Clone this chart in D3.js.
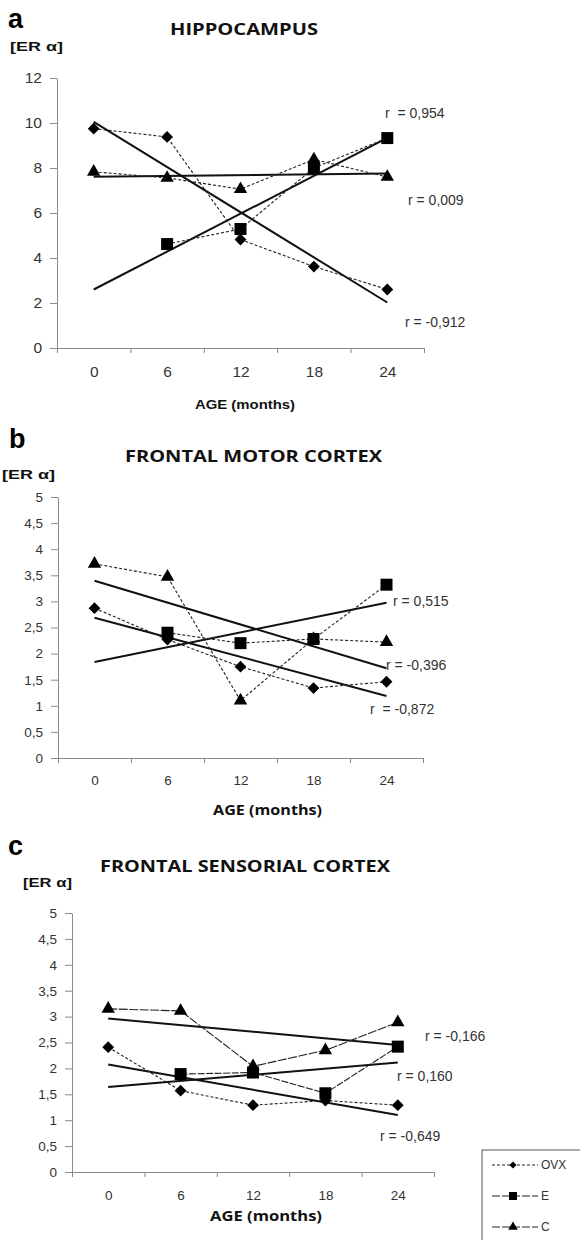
<!DOCTYPE html>
<html>
<head>
<meta charset="utf-8">
<script src="https://cdn.jsdelivr.net/npm/d3@7"></script>
<style>
  body { margin: 0; background: #fff; }
  svg { display: block; }
</style>
</head>
<body>
<script>
// ages on the x axis (months)
const ages = [0, 6, 12, 18, 24];
const ageBounds = [-3, 3, 9, 15, 21, 27];

const ticksHip = [0, 2, 4, 6, 8, 10, 12];
const ticksCortex = [0, 0.5, 1, 1.5, 2, 2.5, 3, 3.5, 4, 4.5, 5];

// HIPPOCAMPUS
const hipOVX = [9.75, 9.38, 4.82, 3.62, 2.6];
const hipE   = [null, 4.62, 5.29, 8.0, 9.33];
const hipC   = [7.83, 7.56, 7.06, 8.38, 7.6];
const hipR   = ["r  = 0,954", "r = 0,009", "r = -0,912"];

// FRONTAL MOTOR CORTEX
const motOVX = [2.87, 2.27, 1.75, 1.34, 1.46];
const motE   = [null, 2.4, 2.2, 2.28, 3.32];
const motC   = [3.72, 3.47, 1.1, 2.28, 2.22];
const motR   = ["r = 0,515", "r = -0,396", "r  = -0,872"];

// FRONTAL SENSORIAL CORTEX
const senOVX = [2.41, 1.57, 1.29, 1.38, 1.29];
const senE   = [null, 1.89, 1.92, 1.52, 2.42];
const senC   = [3.15, 3.11, 2.04, 2.35, 2.89];
const senR   = ["r = -0,166", "r = 0,160", "r = -0,649"];

const legendNames = ["OVX", "E", "C"];

const svg = d3.select("body").append("svg")
    .attr("width", 580)
    .attr("height", 1240);

const ARIAL = "'Liberation Sans', Arial, sans-serif";
const CALIBRI = "'Open Sans', sans-serif";

const panels = [
    {
        letter: "a", title: "HIPPOCAMPUS", ovx: hipOVX, e: hipE, c: hipC, r: hipR,
        ticks: ticksHip, yMax: 12,
        left: 57, right: 424, top: 78, bottom: 348,
        letterPos: [8, 28], titlePos: [170, 35, 148], erPos: [10, 51, 53],
        ageText: { x: 195, y: 409, len: 100, font: ARIAL, size: 13 },
        tickSize: 15.5, xPad: 18,
        rPos: [[385, 118], [408, 205], [405, 327]],
        dashE: "3,2", dashC: "3,2"
    },
    {
        letter: "b", title: "FRONTAL MOTOR CORTEX", ovx: motOVX, e: motE, c: motC, r: motR,
        ticks: ticksCortex, yMax: 5,
        left: 58, right: 423, top: 497, bottom: 758,
        letterPos: [9, 448], titlePos: [125, 462, 257], erPos: [2, 479, 53],
        ageText: { x: 213, y: 815, len: 109, font: CALIBRI, size: 14 },
        tickSize: 13.5, xPad: 17,
        rPos: [[393, 606], [386, 670], [370, 714]],
        dashE: "3,2", dashC: "3,2"
    },
    {
        letter: "c", title: "FRONTAL SENSORIAL CORTEX", ovx: senOVX, e: senE, c: senC, r: senR,
        ticks: ticksCortex, yMax: 5,
        left: 72, right: 434, top: 913, bottom: 1172,
        letterPos: [8, 855], titlePos: [100, 872, 290], erPos: [23, 887, 49],
        ageText: { x: 210, y: 1221, len: 112, font: CALIBRI, size: 14 },
        tickSize: 13.5, xPad: 18,
        rPos: [[425, 1041], [397, 1081], [380, 1141]],
        dashE: "7,1.5", dashC: "9,1.5"
    }
];

function regression(vals) {
    const pts = vals.map((v, i) => [ages[i], v]).filter(p => p[1] !== null);
    const mx = d3.mean(pts, p => p[0]);
    const my = d3.mean(pts, p => p[1]);
    const slope = d3.sum(pts, p => (p[0] - mx) * (p[1] - my)) / d3.sum(pts, p => (p[0] - mx) ** 2);
    return a => my + slope * (a - mx);
}

const markerPath = {
    ovx: d3.symbol(d3.symbolSquare, 70)(),
    e: d3.symbol(d3.symbolSquare, 144)(),
    c: d3.symbol(d3.symbolTriangle, 78)()
};
const markerRot = { ovx: 45, e: 0, c: 0 };

function drawPanel(p) {
    const x = d3.scaleLinear().domain([-3, 27]).range([p.left, p.right]);
    const y = d3.scaleLinear().domain([0, p.yMax]).range([p.bottom, p.top]);
    const g = svg.append("g");

    // y axis
    const yAxis = g.append("g")
        .attr("transform", `translate(${p.left},0)`)
        .call(d3.axisLeft(y).tickValues(p.ticks).tickSize(7).tickSizeOuter(0).tickPadding(8)
            .tickFormat(d => String(d).replace(".", ",")));
    // x axis: boundary ticks, then centred labels
    const xAxis = g.append("g")
        .attr("transform", `translate(0,${p.bottom})`)
        .call(d3.axisBottom(x).tickValues(ageBounds).tickSize(5).tickSizeOuter(0).tickFormat(""));
    const xLab = g.append("g")
        .attr("transform", `translate(0,${p.bottom})`)
        .call(d3.axisBottom(x).tickValues(ages).tickSize(0).tickPadding(p.xPad));
    xLab.select(".domain").remove();

    [yAxis, xAxis, xLab].forEach(a => {
        a.attr("font-size", null).attr("font-family", null);
        a.selectAll(".domain, line").attr("stroke", "#8a8a8a");
        a.selectAll("text")
            .style("fill", "#333")
            .style("font-family", ARIAL)
            .style("font-size", p.tickSize + "px");
    });

    // trend lines
    [p.ovx, p.e, p.c].forEach(vals => {
        const f = regression(vals);
        g.append("line")
            .attr("x1", x(0)).attr("y1", y(f(0)))
            .attr("x2", x(24)).attr("y2", y(f(24)))
            .attr("stroke", "#111").attr("stroke-width", 2);
    });

    // data lines + markers
    const series = [
        { key: "ovx", vals: p.ovx, dash: "3,2" },
        { key: "e", vals: p.e, dash: p.dashE },
        { key: "c", vals: p.c, dash: p.dashC }
    ];
    const line = d3.line()
        .defined(d => d[1] !== null)
        .x(d => x(d[0])).y(d => y(d[1]));
    series.forEach(s => {
        const pts = s.vals.map((v, i) => [ages[i], v]);
        g.append("path")
            .attr("d", line(pts))
            .attr("fill", "none")
            .attr("stroke", "#222")
            .attr("stroke-width", 1.1)
            .attr("stroke-dasharray", s.dash);
    });
    series.forEach(s => {
        g.selectAll(null)
            .data(s.vals.map((v, i) => [ages[i], v]).filter(d => d[1] !== null))
            .enter().append("path")
            .attr("d", markerPath[s.key])
            .attr("transform", d => `translate(${x(d[0])},${y(d[1])}) rotate(${markerRot[s.key]})`)
            .attr("fill", "#000");
    });

    // texts
    g.append("text").text(p.letter)
        .attr("x", p.letterPos[0]).attr("y", p.letterPos[1])
        .attr("font-family", ARIAL).attr("font-weight", "bold").attr("font-size", 27);
    g.append("text").text(p.title)
        .attr("x", p.titlePos[0]).attr("y", p.titlePos[1])
        .attr("textLength", p.titlePos[2]).attr("lengthAdjust", "spacingAndGlyphs")
        .attr("font-family", CALIBRI).attr("font-weight", "bold").attr("font-size", 16)
        .attr("fill", "#111");
    g.append("text").text("[ER α]")
        .attr("x", p.erPos[0]).attr("y", p.erPos[1])
        .attr("textLength", p.erPos[2]).attr("lengthAdjust", "spacingAndGlyphs")
        .attr("font-family", ARIAL).attr("font-weight", "bold").attr("font-size", 12)
        .attr("fill", "#111");
    g.append("text").text("AGE (months)")
        .attr("x", p.ageText.x).attr("y", p.ageText.y)
        .attr("textLength", p.ageText.len).attr("lengthAdjust", "spacingAndGlyphs")
        .attr("font-family", p.ageText.font).attr("font-weight", "bold")
        .attr("font-size", p.ageText.size).attr("fill", "#111");
    p.r.forEach((t, i) => {
        g.append("text").text(t)
            .attr("x", p.rPos[i][0]).attr("y", p.rPos[i][1])
            .attr("font-family", ARIAL).attr("font-size", 14).attr("fill", "#333")
            .style("white-space", "pre");
    });
}

panels.forEach(drawPanel);

// legend
const legend = svg.append("g").attr("transform", "translate(482,1150)");
legend.append("rect")
    .attr("width", 120).attr("height", 110)
    .attr("fill", "#fff").attr("stroke", "#555").attr("stroke-width", 1);
const legMarker = {
    ovx: d3.symbol(d3.symbolSquare, 26)(),
    e: d3.symbol(d3.symbolSquare, 64)(),
    c: d3.symbol(d3.symbolTriangle, 40)()
};
const legY = d3.scalePoint().domain(legendNames).range([15, 77]);
const legKeys = ["ovx", "e", "c"];
const legDash = ["3,2", "8,2", "8,2"];
legendNames.forEach((name, i) => {
    const yy = legY(name);
    legend.append("line")
        .attr("x1", 10).attr("x2", 56).attr("y1", yy).attr("y2", yy)
        .attr("stroke", "#222").attr("stroke-width", 1).attr("stroke-dasharray", legDash[i]);
    legend.append("path")
        .attr("d", legMarker[legKeys[i]])
        .attr("transform", `translate(31,${yy}) rotate(${markerRot[legKeys[i]]})`)
        .attr("fill", "#000");
    legend.append("text").text(name)
        .attr("x", 59).attr("y", yy + 4)
        .attr("font-family", ARIAL).attr("font-size", 12).attr("fill", "#333");
});
</script>
</body>
</html>
